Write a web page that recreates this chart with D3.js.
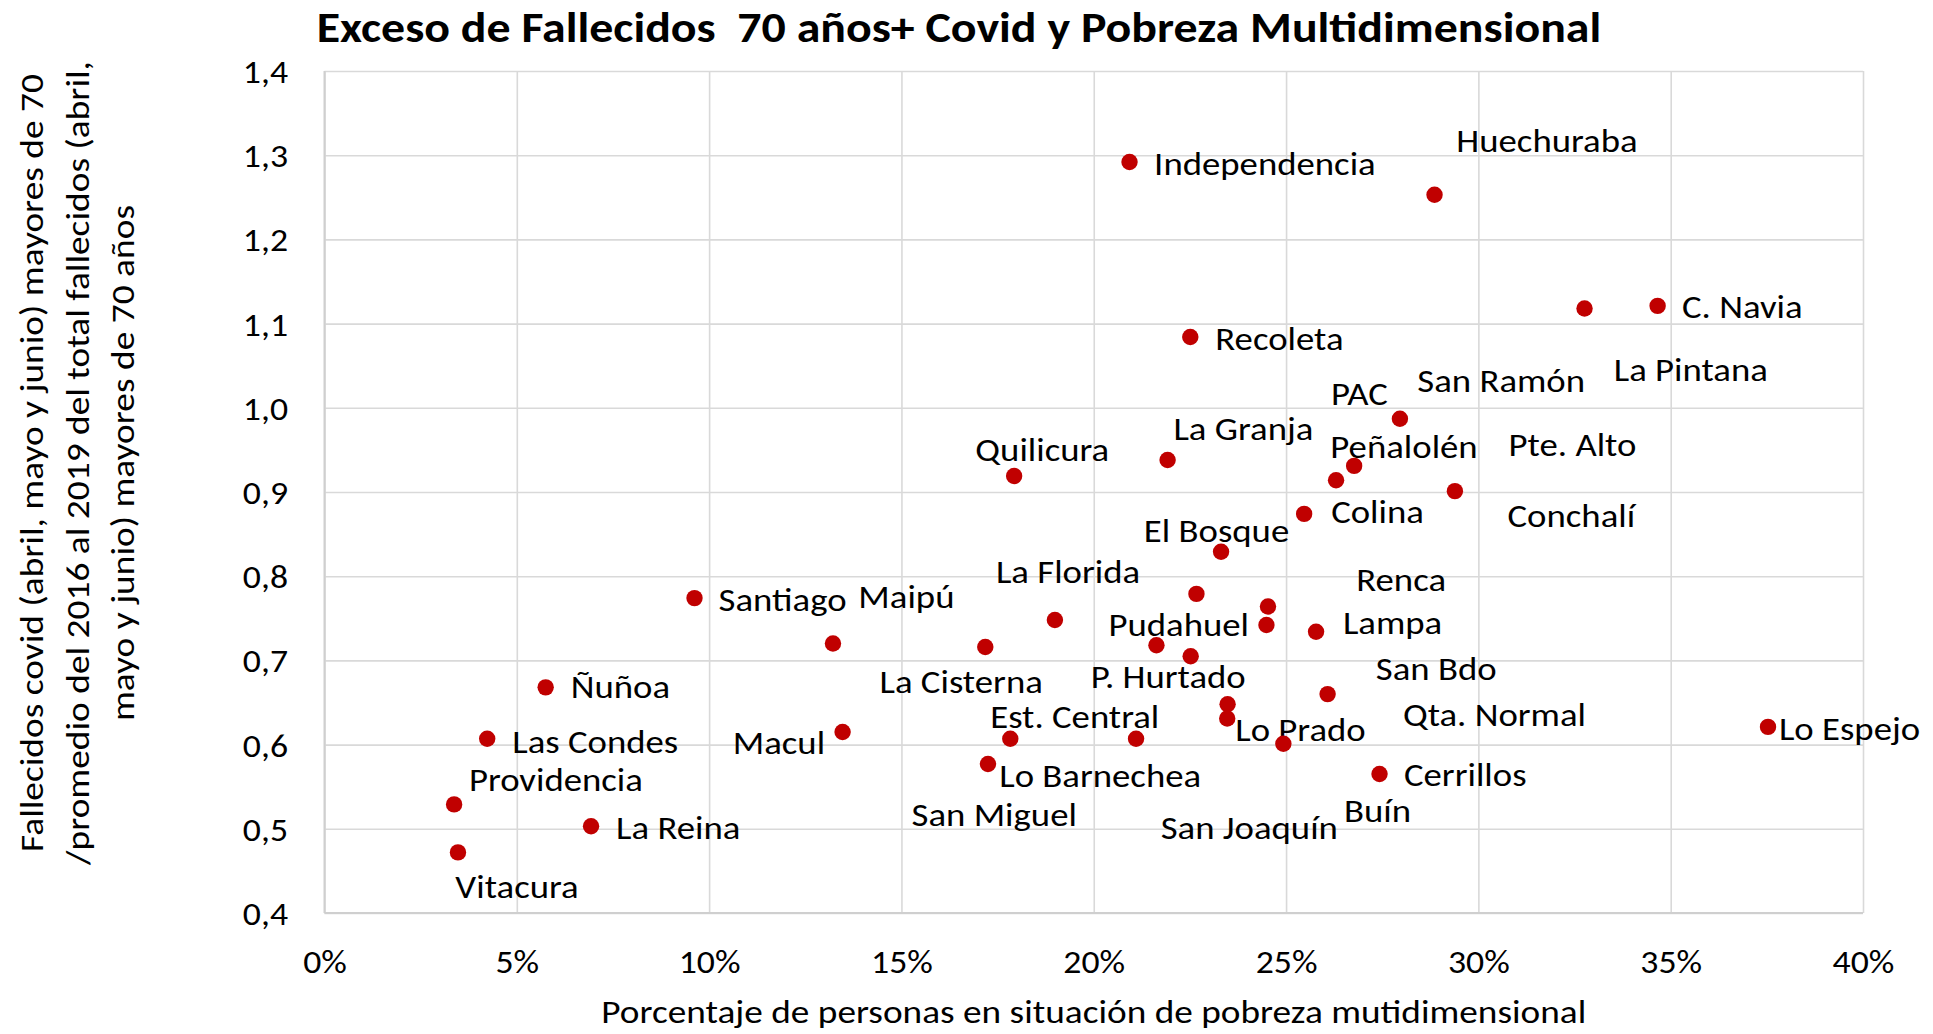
<!DOCTYPE html>
<html>
<head>
<meta charset="utf-8">
<script src="https://cdn.jsdelivr.net/npm/d3@7"></script>
<style>
  html, body { margin: 0; padding: 0; background: #fff; }
  svg { display: block; }
  text { font-family: Carlito, Lato, "Open Sans", sans-serif; fill: #000; }
</style>
</head>
<body>
<svg id="chart" width="1933" height="1034"></svg>
<script>
// ---------- DATA ----------
const comunas = ["Independencia","Huechuraba","La Pintana","C. Navia","Recoleta","San Ramón","Quilicura","La Granja","PAC","Peñalolén","Pte. Alto","Colina","El Bosque","Renca","La Florida","Lampa","Pudahuel","Santiago","Maipú","La Cisterna","P. Hurtado","Conchalí","San Bdo","Qta. Normal","San Joaquín","Lo Prado","Macul","Est. Central","Lo Barnechea","San Miguel","Buín","Cerrillos","Lo Espejo","Ñuñoa","Las Condes","Providencia","La Reina","Vitacura"];
const pobreza = [0.2093,0.2886,0.3276,0.3466,0.2251,0.2796,0.1793,0.2192,0.2677,0.2630,0.2939,0.2547,0.2331,0.2267,0.1899,0.2453,0.2449,0.0962,0.1322,0.1718,0.2163,0.2252,0.2578,0.2608,0.2348,0.2347,0.1347,0.1783,0.1725,0.2110,0.2493,0.2743,0.3753,0.0575,0.0423,0.0337,0.0693,0.0347];
const exceso = [1.292,1.253,1.118,1.121,1.084,0.987,0.919,0.938,0.931,0.914,0.901,0.874,0.829,0.779,0.748,0.764,0.742,0.774,0.720,0.716,0.718,0.705,0.734,0.660,0.648,0.631,0.615,0.607,0.577,0.607,0.601,0.565,0.621,0.668,0.607,0.529,0.503,0.472];
const xTicks = [0,0.05,0.10,0.15,0.20,0.25,0.30,0.35,0.40];
const yTicks = [0.4,0.5,0.6,0.7,0.8,0.9,1.0,1.1,1.2,1.3,1.4];
const titleText = "Exceso de Fallecidos  70 años+ Covid y Pobreza Multidimensional";
const xTitle = "Porcentaje de personas en situación de pobreza mutidimensional";
const yTitleLines = ["Fallecidos covid (abril, mayo y junio) mayores de 70","/promedio del 2016 al 2019 del total fallecidos (abril,","mayo y junio) mayores de 70 años"];
// label placement offsets (px) relative to each point
const labelOffsets = [[24.6,12.7],[21.8,-42.3],[29.2,72.7],[24.4,12],[25,13.3],[17.4,-26.7],[-38.8,-14.7],[5.8,-20.3],[-23.1,-60.7],[-5.7,-22],[53.5,-35.6],[27,9],[-77.2,-10],[159.8,-3.3],[-59,-37.4],[74.9,27.6],[-158,11],[24.1,12.7],[25.4,-35.7],[-105.8,46],[-65.8,42.6],[316.8,-129.3],[59.7,48.3],[75.3,32],[-66.9,135],[8,23],[-109.8,22.3],[-20.1,-10.4],[11.2,23.3],[-224.5,87.7],[60.6,78.7],[24.4,12.4],[10.9,12.6],[25,11],[25,14.3],[14.8,-13.7],[25,12.3],[-2.6,45.3]];

// ---------- LAYOUT ----------
const plot = {left: 324.5, right: 1863, top: 71, bottom: 913};
const svg = d3.select("#chart");
const x = d3.scaleLinear().domain([0, 0.4]).range([plot.left, plot.right]);
const y = d3.scaleLinear().domain([0.4, 1.4]).range([plot.bottom, plot.top]);
const locale = d3.formatLocale({decimal: ",", thousands: ".", grouping: [3], currency: ["$", ""]});
const fmtY = locale.format(".1f");
const fmtX = locale.format(".0%");

// font calibration: width-matched size, then a vertical stretch to match cap height
function fitSize(sample, targetW, weight) {
  const t = svg.append("text").attr("font-size", 100).attr("font-weight", weight || "normal")
    .style("white-space", "pre").text(sample);
  const w = t.node().getComputedTextLength();
  t.remove();
  return 100 * targetW / w;
}
const CAP = 0.7165;
function stretch(size, capTarget) {
  return Math.max(0.9, Math.min(1.3, capTarget / (CAP * size)));
}
const tickSize = fitSize("40%", 61.8), tickSy = stretch(tickSize, 21.5);
const labelSize = fitSize("Independencia", 221.7), labelSy = stretch(labelSize, 23.3);
const xTitleSize = fitSize(xTitle, 985), xTitleSy = stretch(xTitleSize, 19.5);
const yTitleSize = fitSize(yTitleLines[0], 778), yTitleSy = stretch(yTitleSize, 20);
const titleSize = fitSize(titleText, 1285, "bold"), titleSy = stretch(titleSize, 29);

// ---------- GRID / AXES ----------
const gx = svg.append("g").attr("transform", `translate(0,${plot.bottom})`)
  .call(d3.axisBottom(x).tickValues(xTicks).tickFormat(fmtX)
        .tickSize(-(plot.bottom - plot.top)).tickPadding(0));
const gy = svg.append("g").attr("transform", `translate(${plot.left},0)`)
  .call(d3.axisLeft(y).tickValues(yTicks).tickFormat(fmtY)
        .tickSize(-(plot.right - plot.left)).tickPadding(36.5));
[gx, gy].forEach(g => {
  g.select(".domain").remove();
  g.selectAll(".tick line").attr("stroke", "#d9d9d9").attr("stroke-width", 1.6);
  g.selectAll(".tick text").attr("font-size", tickSize).attr("fill", "#000")
    .style("font-family", "Carlito, Lato, 'Open Sans', sans-serif");
});
gx.selectAll(".tick text").attr("y", 0).attr("dy", null)
  .attr("transform", `translate(0,${972.7 - plot.bottom}) scale(1,${tickSy})`);
gy.selectAll(".tick text").attr("x", 0).attr("dy", "0.36em")
  .attr("transform", `translate(-36.5,0) scale(1,${tickSy})`);
// axis lines
svg.append("line").attr("x1", plot.left).attr("x2", plot.right).attr("y1", plot.bottom).attr("y2", plot.bottom)
  .attr("stroke", "#cfcfcf").attr("stroke-width", 2);
svg.append("line").attr("x1", plot.left).attr("x2", plot.left).attr("y1", plot.top).attr("y2", plot.bottom)
  .attr("stroke", "#cfcfcf").attr("stroke-width", 2);

// ---------- LABELS ----------
svg.append("g").selectAll("text").data(comunas).join("text")
  .attr("transform", (d, i) =>
    `translate(${x(pobreza[i]) + labelOffsets[i][0]},${y(exceso[i]) + labelOffsets[i][1]}) scale(1,${labelSy})`)
  .attr("font-size", labelSize)
  .text(d => d);

// ---------- POINTS ----------
svg.append("g").selectAll("circle").data(comunas).join("circle")
  .attr("cx", (d, i) => x(pobreza[i]))
  .attr("cy", (d, i) => y(exceso[i]))
  .attr("r", 8.2)
  .attr("fill", "#c00000");

// ---------- TITLES ----------
svg.append("text").attr("transform", `translate(959,42.3) scale(1,${titleSy})`).attr("text-anchor", "middle")
  .attr("font-weight", "bold").attr("font-size", titleSize).style("white-space", "pre")
  .text(titleText);
svg.append("text").attr("transform", `translate(${(plot.left + plot.right) / 2},1023) scale(1,${xTitleSy})`)
  .attr("text-anchor", "middle")
  .attr("font-size", xTitleSize).text(xTitle);
const yBase = [43, 88.5, 134];
svg.append("g").selectAll("text").data(yTitleLines).join("text")
  .attr("transform", (d, i) => `translate(${yBase[i]},463) rotate(-90) scale(1,${yTitleSy})`)
  .attr("text-anchor", "middle")
  .attr("font-size", yTitleSize)
  .text(d => d);
</script>
</body>
</html>
